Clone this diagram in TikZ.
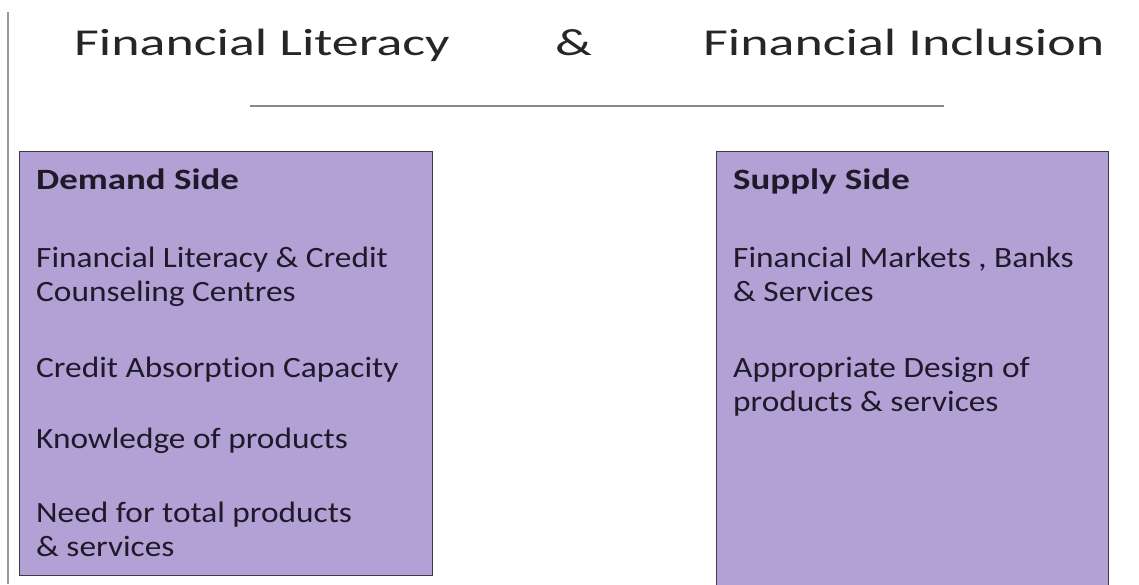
\documentclass[tikz,border=0pt]{standalone}
\usepackage{fontspec}
\setmainfont{Carlito}
\newfontfamily\titlefont{Carlito}[FakeStretch=1.42, Ligatures=NoCommon]
\newfontfamily\bodyfont{Carlito}[FakeStretch=1.13, Ligatures=NoCommon]
\newfontfamily\headfont{Carlito Bold}[FakeStretch=1.25]
\usetikzlibrary{positioning}
\definecolor{sidefill}{HTML}{B3A0D5}
\definecolor{sideedge}{HTML}{3F3A4A}
\definecolor{sidetext}{HTML}{1E1A2A}
\definecolor{rulegray}{HTML}{8A8A8E}
% two stacked lines, first baseline is the node baseline
\newcommand\pair[2]{\vtop{\hbox{#1}\hbox{#2}}}
\tikzset{
  title/.style={anchor=base west, inner sep=0pt, text=black!85, font=\titlefont\fontsize{38}{46}\selectfont},
  sidebox/.style={draw=sideedge, line width=1pt, fill=sidefill, inner sep=0pt},
  head/.style={anchor=base west, inner sep=0pt, text=sidetext, font=\headfont\fontsize{29.5}{34}\selectfont},
  item/.style={anchor=base west, inner sep=0pt, text=sidetext, font=\bodyfont\fontsize{29.5}{34.5}\selectfont},
  rule/.style={draw=rulegray, line width=1.5pt}
}

\begin{document}
\begin{tikzpicture}[x=1pt, y=-1pt]
\useasboundingbox (0,0) rectangle (1139,584);
\clip (0,0) rectangle (1139,584);
% heading line
\node[title] (lit) at (74,55) {Financial Literacy};
\node[title] (amp) at (555,55) {\&};
\node[title] (incl) at (703,55) {Financial Inclusion};
\coordinate (ruleL) at (250,106);
\coordinate (ruleR) at (944,106);
\draw[rule] (ruleL) -- (ruleR);
\coordinate (edgeT) at (8,12);
\coordinate (edgeB) at (8,584);
\draw[draw=gray!80, line width=1.5pt] (edgeT) -- (edgeB);
% the two boxes
\node[sidebox, minimum width=413pt, minimum height=424pt] (demand) at (226,363) {};
\node[sidebox, minimum width=392pt, minimum height=440pt] (supply) at (912,371) {};
% demand side
\node[head] (dhead) at (36,189) {Demand Side};
\node[item] (d1) at (36,267) {\pair{Financial Literacy \& Credit}{Counseling Centres}};
\node[item] (d2) at (36,377) {Credit Absorption Capacity};
\node[item] (d3) at (36,448) {Knowledge of products};
\node[item] (d4) at (36,522) {\pair{Need for total products}{\& services}};
% supply side
\node[head] (shead) at (733,189) {Supply Side};
\node[item] (s1) at (733,267) {\pair{Financial Markets , Banks}{\& Services}};
\node[item] (s2) at (733,377) {\pair{Appropriate Design of}{products \& services}};
\end{tikzpicture}
\end{document}
